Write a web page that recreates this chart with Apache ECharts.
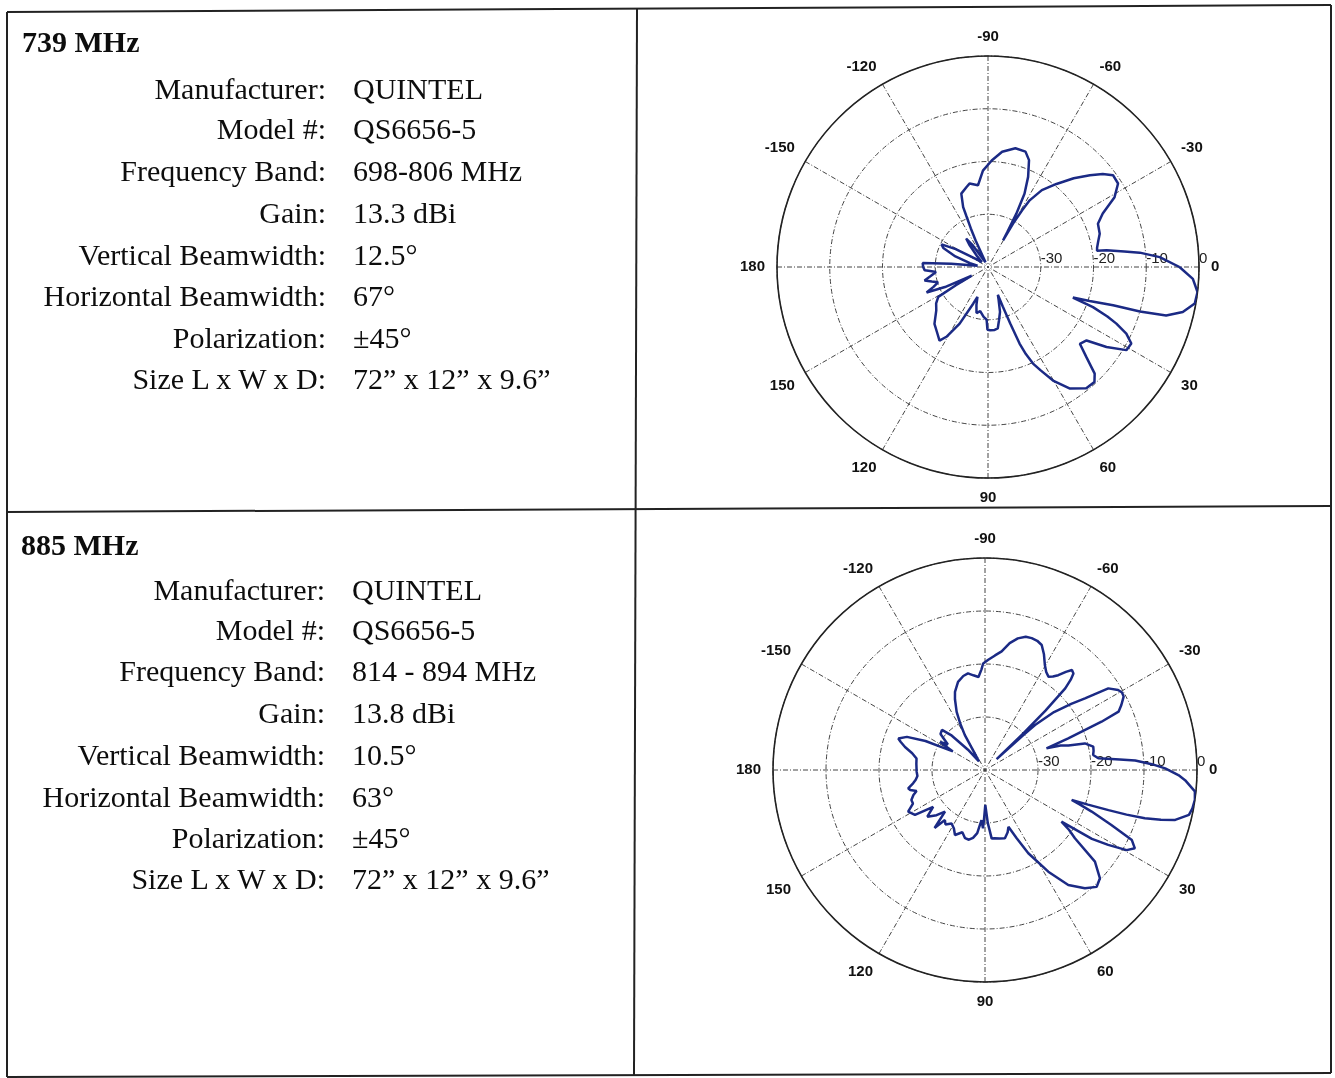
<!DOCTYPE html>
<html>
<head>
<meta charset="utf-8">
<script src="https://cdn.jsdelivr.net/npm/echarts@6/dist/echarts.min.js"></script>
<style>
  html, body { margin: 0; padding: 0; background: #fff; }
  #chart { position: absolute; left: 0; top: 0; width: 1335px; height: 1078px; }
  .t { position: absolute; font-family: 'Liberation Serif', 'Times New Roman', serif; color: #0d0d0d; white-space: nowrap; line-height: 40px; height: 40px; }
  .title { font-weight: bold; font-size: 30px; }
  .lab { font-size: 30px; text-align: right; }
  .val { font-size: 30px; text-align: left; }
  svg { position: absolute; left: 0; top: 0; }
</style>
</head>
<body>
<div id="chart"></div>
<svg width="1335" height="1078">
  <g stroke="#222" stroke-width="2" fill="none">
    <line x1="7" y1="12" x2="1331" y2="5"/>
    <line x1="7" y1="512" x2="1331" y2="506"/>
    <line x1="7" y1="1077" x2="1331" y2="1073"/>
    <line x1="7" y1="12" x2="7" y2="1077"/>
    <line x1="637" y1="9" x2="634" y2="1075"/>
    <line x1="1331" y1="5" x2="1331" y2="1073"/>
  </g>
</svg>
<div id="panels"></div>
<script>
// ---------- text data ----------
const specLabels = ['Manufacturer:', 'Model #:', 'Frequency Band:', 'Gain:', 'Vertical Beamwidth:', 'Horizontal Beamwidth:', 'Polarization:', 'Size L x W x D:'];
const title739 = '739 MHz';
const specs739 = ['QUINTEL', 'QS6656-5', '698-806 MHz', '13.3 dBi', '12.5°', '67°', '±45°', '72” x 12” x 9.6”'];
const title885 = '885 MHz';
const specs885 = ['QUINTEL', 'QS6656-5', '814 - 894 MHz', '13.8 dBi', '10.5°', '63°', '±45°', '72” x 12” x 9.6”'];

// ---------- axis ticks ----------
const angleTicks = [0, 30, 60, 90, 120, 150, 180, -150, -120, -90, -60, -30];
const radiusTicks = [-40, -30, -20, -10, 0];

// ---------- pattern data (angle in deg, gain in dB) ----------
const angles739 = [-180,-176.5,-175,-173,-168,-162,-157,-154,-151,-147,-142,-135,-130,-127.5,-125,-121,-118,-115,-114,-113,-112.5,-110,-105,-102.5,-97,-95.5,-93,-88,-83,-77,-72,-69,-66,-63.5,-62,-61,-60.5,-60,-59,-58,-55,-50.5,-46,-42,-39,-36.3,-32.7,-28.9,-25,-21.5,-16.6,-12.8,-10,-8.5,-8,-6.5,-5.4,-3.3,0,3.3,6.8,10,13,15.2,16.3,17,18.5,19.8,20.9,22.5,23.8,25.7,28.1,31,34,36.7,39.9,42.5,45,47.2,51,56,60.2,63,65,66.5,67.6,68.5,69.5,70.5,72,75,78.5,81,84,88,90.5,91.5,95,100,104,107,109.5,112,116.6,120.8,123.4,128,133.3,140,145,149,150.5,152,155,157.5,160,163,165.5,168,171,174.5,176,177,180];
const gain739 = [-27.7,-27.6,-33,-38,-36.5,-33.5,-30.8,-30.2,-33,-37,-38.5,-37,-34.5,-33.2,-35,-38.5,-39,-34.5,-32,-29.5,-27.7,-25.2,-24.3,-23.8,-24.4,-23.5,-21.7,-19.8,-18,-16.9,-17,-18.3,-21.3,-24.5,-28.6,-32.5,-34.2,-30.5,-27.5,-25.1,-22.2,-19.6,-16.6,-14,-12,-10.6,-10.7,-12.6,-16,-17.6,-17.9,-18.6,-19,-19.1,-17.3,-14,-11.1,-7.4,-3.7,-1.1,0,-0.2,-2.1,-5,-10,-15.2,-19.7,-22.9,-18.7,-15.5,-13.4,-10.9,-9.2,-9.4,-12.9,-16.7,-17.3,-14.7,-11.4,-10.3,-10.4,-12.2,-15.2,-18,-19.8,-22,-24.3,-28.5,-32,-34.4,-33.5,-31.2,-29.6,-28.2,-28,-28,-28.1,-30,-30.5,-31.5,-31,-32.5,-34,-32.5,-28,-24.6,-23.3,-24.3,-25.2,-27.2,-28,-29,-33,-36.5,-31,-27.4,-29,-30.1,-29,-27.7,-29,-30.1,-29,-28,-27.7];

const angles885 = [-180,-175,-170.5,-167,-164,-161.5,-160,-157,-154,-152,-150,-148,-145.5,-141,-137,-134,-130,-125,-121.5,-120,-118,-116,-113,-111,-107,-103,-100,-97,-94,-92,-91,-88.3,-85,-82,-79,-76,-73,-70.5,-68,-65.6,-63,-60.3,-58,-55.8,-54,-52.3,-50.5,-49,-47.5,-46.5,-45.5,-44.5,-43.7,-43,-42.3,-42,-40,-37.5,-35.6,-33.5,-31,-29.5,-27.9,-25.5,-23.6,-22.5,-20.8,-19.4,-18,-16.3,-14.9,-12.2,-10,-7.9,-5.9,-4.5,-3.6,-2,-0.5,1.5,2.9,5.8,8.1,10.5,12.4,14.7,15.8,16.8,17.5,18,18.6,19.1,20,21.3,23.5,25.5,27.6,29.5,31.3,32.8,34,35.5,37.2,39.8,43.3,46.3,49.8,54.1,58.1,62.5,65.1,67.6,70,73.7,78,82,84.4,87,89.5,91,92,94,97,100,103,106.3,110,114.8,118,122,126,128.7,131,133.8,137,139,141,144.6,147.3,151.5,155,157.8,160.8,163,165,166.6,169.5,172,175,178.6,180];
const gain885 = [-27.2,-27,-26.9,-25.9,-24.3,-23.2,-22.6,-24,-27.5,-31,-33,-30,-31.5,-29.2,-28.9,-31,-35,-38,-36,-32.4,-30,-27.8,-25.5,-24.2,-22.6,-21.8,-21.5,-22,-22.4,-21,-19.9,-19.2,-18.3,-17.4,-15.6,-14.4,-13.7,-13.6,-13.7,-14.1,-15.5,-17.2,-18.2,-18.7,-18.2,-17.4,-16,-15,-15.3,-16.5,-18.4,-24,-30,-37,-30,-27.3,-23,-19.5,-16.8,-12.1,-10.7,-10.3,-10.4,-11.5,-12.5,-16.2,-23.2,-27.7,-25,-23.6,-20.5,-19.1,-19.2,-19.4,-18.5,-14.5,-11.6,-8.5,-6,-3.5,-2.2,-0.2,0,-0.2,-0.6,-2.9,-5.5,-8.5,-12,-15.5,-19.5,-22.7,-21,-18.4,-14,-9.3,-8.1,-9.3,-12.8,-16,-22.6,-20.5,-18.7,-13,-10.2,-9.5,-10.8,-13.2,-17.4,-22.3,-25.8,-28.4,-27.5,-26.6,-26.8,-27,-27,-30,-33.4,-31,-29,-30.5,-28,-27,-26.5,-26.6,-27.5,-26.5,-27.5,-28.1,-27.3,-27.9,-25.5,-29.1,-27.5,-27.5,-26,-28,-24.3,-23.5,-25,-25,-25.7,-26.5,-25.4,-25.1,-26.2,-26.8,-27.2,-27.1,-27.2];

// ---------- text panels ----------
function buildPanel(title, specs, titleX, titleY, rowYs, labRight, valLeft) {
  const p = document.getElementById('panels');
  const t = document.createElement('div');
  t.className = 't title'; t.textContent = title;
  t.style.left = titleX + 'px'; t.style.top = (titleY - 20) + 'px';
  p.appendChild(t);
  specLabels.forEach((lab, i) => {
    const l = document.createElement('div');
    l.className = 't lab'; l.textContent = lab;
    l.style.right = (1335 - labRight) + 'px'; l.style.top = (rowYs[i] - 20) + 'px';
    p.appendChild(l);
    const v = document.createElement('div');
    v.className = 't val'; v.textContent = specs[i];
    v.style.left = valLeft + 'px'; v.style.top = (rowYs[i] - 20) + 'px';
    p.appendChild(v);
  });
}
buildPanel(title739, specs739, 22, 42, [89,129,171,213,255,296,338,379], 326, 353);
buildPanel(title885, specs885, 21, 545, [590,630,671,713,755,797,838,879], 325, 352);

// ---------- chart ----------
function toPolarData(angles, gains) {
  const pts = angles.map((a, i) => [gains[i], a < 0 ? a + 360 : a]);
  pts.sort((p, q) => p[1] - q[1]);
  const out = [];
  pts.forEach(p => { if (!out.length || out[out.length - 1][1] !== p[1]) out.push(p); });
  out.push([out[0][0], out[0][1] + 360]);
  return out;
}

const gridStyle = { color: '#454545', width: 1, type: [5, 2, 1, 2] };
const angleLabelFmt = v => {
  const d = v > 180 ? v - 360 : v;
  return angleTicks.indexOf(d) >= 0 ? String(d) : '';
};

function angleAxis(idx) {
  return {
    polarIndex: idx, type: 'value', min: 0, max: 360, interval: 30, startAngle: 0, clockwise: true,
    axisLine: { show: true, lineStyle: { color: '#222', width: 1.6 } },
    axisTick: { show: false },
    splitLine: { show: true, lineStyle: gridStyle },
    axisLabel: { show: true, margin: 12, fontFamily: 'Liberation Sans, Arial, sans-serif', fontWeight: 'bold', fontSize: 15, color: '#111', formatter: angleLabelFmt }
  };
}
function radiusAxis(idx) {
  return {
    polarIndex: idx, type: 'value', min: radiusTicks[0], max: radiusTicks[radiusTicks.length - 1], interval: 10,
    axisLine: { show: false }, axisTick: { show: false },
    splitLine: { show: true, lineStyle: gridStyle },
    axisLabel: { show: true, margin: 1, align: 'left', verticalAlign: 'bottom', fontFamily: 'Liberation Sans, Arial, sans-serif', fontSize: 15, color: '#222',
      formatter: v => (v === radiusTicks[0] ? '' : String(v)) }
  };
}

const chart = echarts.init(document.getElementById('chart'), null, { renderer: 'canvas' });
chart.setOption({
  backgroundColor: 'transparent',
  animation: false,
  polar: [
    { center: [988, 267], radius: 211 },
    { center: [985, 770], radius: 212 }
  ],
  angleAxis: [angleAxis(0), angleAxis(1)],
  radiusAxis: [radiusAxis(0), radiusAxis(1)],
  series: [
    { name: '739 MHz', type: 'line', coordinateSystem: 'polar', polarIndex: 0, showSymbol: false, symbol: 'none', clip: false,
      lineStyle: { color: '#1b2a85', width: 2.5 }, data: toPolarData(angles739, gain739) },
    { name: '885 MHz', type: 'line', coordinateSystem: 'polar', polarIndex: 1, showSymbol: false, symbol: 'none', clip: false,
      lineStyle: { color: '#1b2a85', width: 2.5 }, data: toPolarData(angles885, gain885) }
  ]
});
</script>
</body>
</html>
